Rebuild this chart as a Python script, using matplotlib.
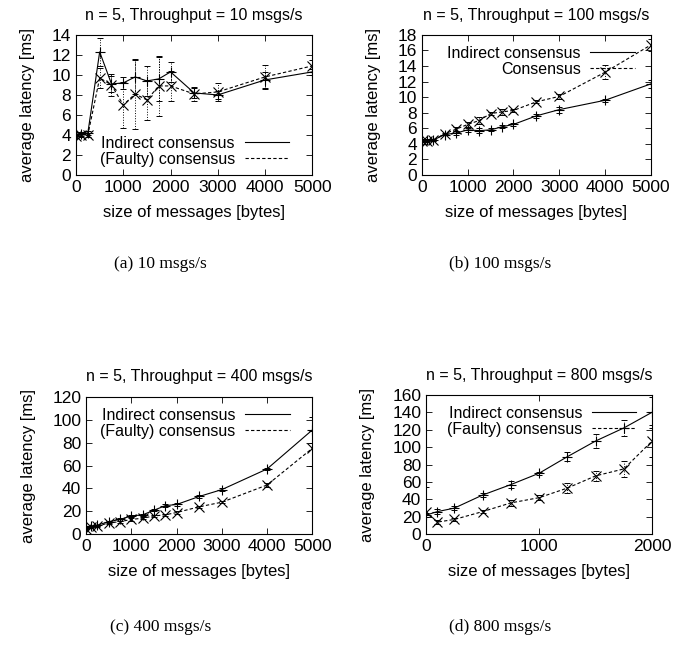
import numpy as np
import matplotlib
matplotlib.use("Agg")
import matplotlib.pyplot as plt
from matplotlib.lines import Line2D

plt.rcParams['font.family'] = ['Liberation Sans', 'DejaVu Sans']

# message sizes [bytes]
sizes = [0, 100, 250, 500, 750, 1000, 1250, 1500, 1750, 2000, 2500, 3000, 4000, 5000]
sizes_d = [0, 100, 250, 500, 750, 1000, 1250, 1500, 1750, 2000]

# (a) 10 msgs/s
a_ind = [4.1, 4.1, 4.2, 12.3, 9.1, 9.2, 9.8, 9.4, 9.6, 10.3, 8.2, 8.0, 9.5, 10.3]
a_ind_err = [0.2, 0.2, 0.2, 1.4, 0.8, 0.6, 1.7, 1.5, 2.2, 1.0, 0.5, 0.4, 0.8, 0.3]
a_fau = [3.9, 4.0, 4.0, 9.7, 9.0, 7.0, 8.1, 7.5, 8.9, 8.9, 8.1, 8.3, 9.8, 10.9]
a_fau_err = [0.2, 0.2, 0.2, 1.0, 1.1, 2.3, 3.5, 2.0, 3.0, 1.5, 0.7, 0.9, 1.2, 0.6]

# (b) 100 msgs/s
b_ind = [4.5, 4.5, 4.5, 5.2, 5.4, 5.8, 5.7, 5.8, 6.2, 6.5, 7.6, 8.4, 9.6, 11.7]
b_ind_err = [0.1, 0.1, 0.1, 0.1, 0.3, 0.3, 0.3, 0.2, 0.2, 0.2, 0.3, 0.4, 0.2, 0.5]
b_con = [4.4, 4.4, 4.5, 5.3, 5.9, 6.5, 7.0, 7.9, 8.1, 8.3, 9.4, 10.1, 13.2, 16.7]
b_con_err = [0.1, 0.1, 0.1, 0.1, 0.3, 0.3, 0.4, 0.2, 0.4, 0.2, 0.2, 0.3, 0.9, 0.8]

# (c) 400 msgs/s
c_ind = [6, 7, 8, 11, 13, 16, 17, 21, 25, 26, 33, 39, 57, 91]
c_ind_err = [0.5, 0.5, 0.5, 1, 1, 1, 1, 1, 1, 1, 1, 1.5, 1, 11]
c_fau = [5, 6, 7, 10, 11, 13, 14, 16, 17, 19, 24, 28, 43, 75]
c_fau_err = [0.5, 0.5, 0.5, 1, 1, 1, 1, 1, 1, 1, 1, 1, 1.5, 15]

# (d) 800 msgs/s
d_ind = [22, 26, 30, 45, 57, 70, 89, 107, 122, 140]
d_ind_err = [2, 3, 2, 2, 4, 2, 5, 8, 9, 18]
d_fau = [26, 14, 17, 26, 36, 42, 53, 67, 75, 107]
d_fau_err = [28, 2, 2, 2, 3, 3, 6, 6, 9, 18]

panels = [
    ([0.113, 0.734, 0.351, 0.213], sizes, a_ind, a_ind_err, a_fau, a_fau_err,
     "n = 5, Throughput = 10 msgs/s", "(Faulty) consensus", 14, 2, 5000, 'lower right', (0.95, -0.02)),
    ([0.627, 0.734, 0.340, 0.213], sizes, b_ind, b_ind_err, b_con, b_con_err,
     "n = 5, Throughput = 100 msgs/s", "Consensus", 18, 2, 5000, 'upper right', (0.98, 1.0)),
    ([0.128, 0.188, 0.336, 0.209], sizes, c_ind, c_ind_err, c_fau, c_fau_err,
     "n = 5, Throughput = 400 msgs/s", "(Faulty) consensus", 120, 20, 5000, 'upper right', (0.95, 1.0)),
    ([0.633, 0.188, 0.336, 0.212], sizes_d, d_ind, d_ind_err, d_fau, d_fau_err,
     "n = 5, Throughput = 800 msgs/s", "(Faulty) consensus", 160, 20, 2000, 'upper right', (0.98, 1.0)),
]
captions = ["(a) 10 msgs/s", "(b) 100 msgs/s", "(c) 400 msgs/s", "(d) 800 msgs/s"]
caption_pos = [(0.238, 1 - 264 / 658), (0.743, 1 - 264 / 658),
               (0.238, 1 - 627 / 658), (0.743, 1 - 627 / 658)]

fig = plt.figure(figsize=(6.73, 6.58), dpi=100)

for (rect, x, y1, e1, y2, e2, title, lab2, ymax, ystep, xmax, loc, anchor) in panels:
    ax = fig.add_axes(rect)
    for y, e, m, ls in [(y1, e1, '+', '-'), (y2, e2, 'x', '--')]:
        ax.plot(x, y, color='black', lw=0.8, ls=ls, marker=m, ms=7, mew=0.8,
                dashes=(3, 2) if ls == '--' else (None, None), zorder=3)
        eb = ax.errorbar(x, y, yerr=e, fmt='none', ecolor='black', elinewidth=0.7,
                         capsize=2.5, capthick=0.7)
        eb[2][0].set_linestyle(':')
    ax.set_xlim(0, xmax)
    ax.set_ylim(0, ymax)
    ax.set_yticks(np.arange(0, ymax + 1, ystep))
    ax.set_xticks(np.arange(0, xmax + 1, 1000))
    ax.tick_params(direction='in', top=True, right=True, labelsize=12.5, length=4, width=0.6)
    for s in ax.spines.values():
        s.set_linewidth(0.8)
    ax.set_title(title, fontsize=11.5, pad=11)
    ax.set_xlabel("size of messages [bytes]", fontsize=12, labelpad=7)
    ax.set_ylabel("average latency [ms]", fontsize=12, labelpad=12)
    handles = [Line2D([], [], color='black', lw=0.8, ls='-'),
               Line2D([], [], color='black', lw=0.8, ls=(0, (3, 2)))]
    ax.legend(handles, ["Indirect consensus", lab2], loc=loc, bbox_to_anchor=anchor,
              frameon=False, markerfirst=False, fontsize=11.5, handlelength=2.8,
              borderaxespad=0.3, labelspacing=0.05, handletextpad=0.6,
              alignment='right')

for txt, (cx, cy) in zip(captions, caption_pos):
    fig.text(cx, cy, txt, ha='center', va='center', fontsize=12.5,
             family=['Liberation Serif', 'DejaVu Serif'])

fig.savefig("out.png", dpi=100)
